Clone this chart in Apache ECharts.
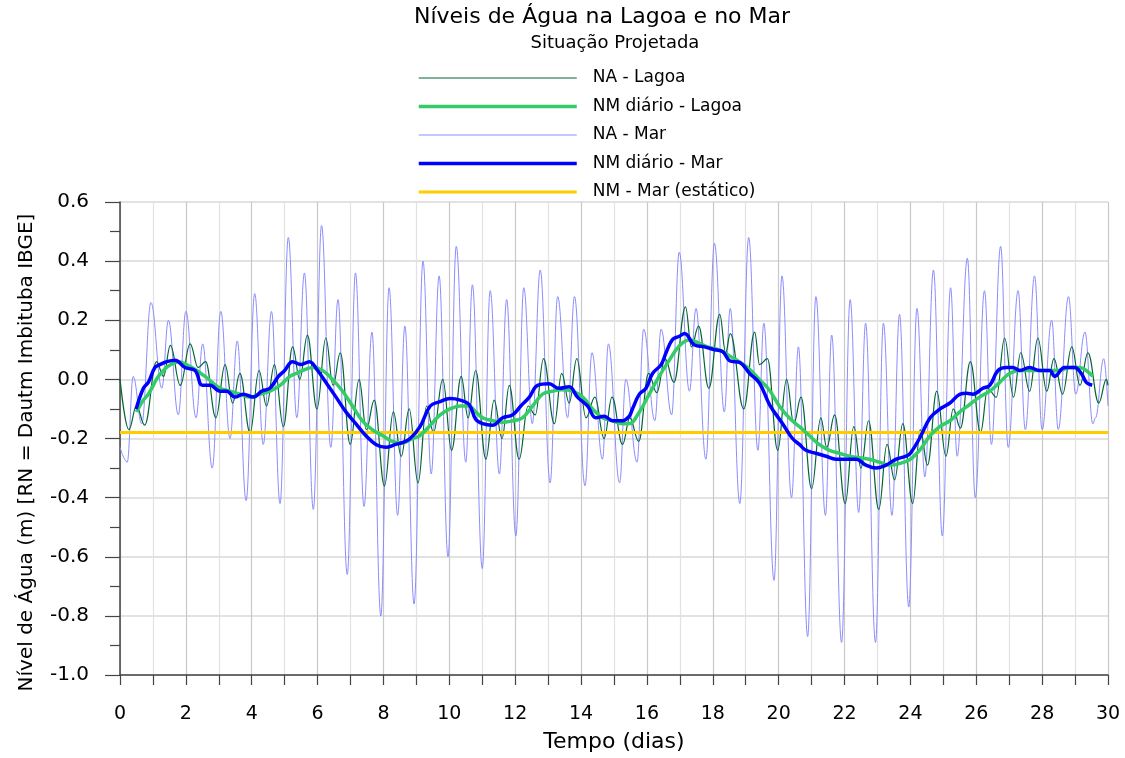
<!DOCTYPE html>
<html>
<head>
<meta charset="utf-8">
<title>Níveis de Água na Lagoa e no Mar</title>
<script src="https://cdn.jsdelivr.net/npm/echarts@6/dist/echarts.min.js"></script>
<style>
  html, body { margin: 0; padding: 0; background: #fff; }
  #chart { width: 1125px; height: 758px; }
</style>
</head>
<body>
<div id="chart"></div>
<script>
// NA - Mar : picos e cavas (dia, nivel m)
const marDias = [0.0, 0.22, 0.40, 0.66, 0.94, 1.27, 1.47, 1.77, 2.0, 2.31, 2.51, 2.80, 3.06, 3.34, 3.56, 3.83, 4.09, 4.35, 4.60, 4.86,
  5.11, 5.37, 5.60, 5.87, 6.12, 6.40, 6.62, 6.90, 7.15, 7.41, 7.65, 7.92, 8.17, 8.43, 8.65, 8.93, 9.20, 9.45, 9.69, 9.96,
  10.21, 10.50, 10.70, 11.00, 11.24, 11.52, 11.74, 12.02, 12.26, 12.52, 12.76, 13.06, 13.29, 13.59, 13.80, 14.12, 14.33, 14.65, 14.83, 15.17,
  15.36, 15.70, 15.90, 16.24, 16.43, 16.75, 16.98, 17.29, 17.49, 17.79, 18.05, 18.35, 18.53, 18.82, 19.09, 19.37, 19.55, 19.86, 20.10, 20.39,
  20.60, 20.88, 21.13, 21.42, 21.61, 21.91, 22.17, 22.43, 22.64, 22.94, 23.18, 23.44, 23.67, 23.95, 24.20, 24.44, 24.70, 24.97, 25.22, 25.42,
  25.73, 25.97, 26.25, 26.46, 26.74, 26.97, 27.27, 27.49, 27.77, 28.00, 28.29, 28.49, 28.80, 29.02, 29.30, 29.54, 29.62, 29.87, 30.0];
const marNivel = [-0.23, -0.28, 0.01, -0.15, 0.26, -0.03, 0.20, -0.12, 0.23, -0.13, 0.12, -0.30, 0.23, -0.20, 0.13, -0.41, 0.29, -0.22, 0.23, -0.42,
  0.48, -0.13, 0.36, -0.44, 0.52, -0.23, 0.27, -0.66, 0.36, -0.43, 0.16, -0.80, 0.31, -0.46, 0.18, -0.76, 0.40, -0.32, 0.35, -0.60,
  0.45, -0.28, 0.32, -0.64, 0.30, -0.32, 0.27, -0.53, 0.31, -0.15, 0.37, -0.35, 0.28, -0.13, 0.28, -0.36, 0.09, -0.27, 0.12, -0.35,
  0.0, -0.28, 0.17, -0.14, 0.17, -0.12, 0.43, -0.04, 0.24, -0.27, 0.46, -0.11, 0.24, -0.42, 0.48, -0.24, 0.19, -0.68, 0.35, -0.40,
  0.11, -0.87, 0.28, -0.46, 0.15, -0.89, 0.27, -0.45, 0.19, -0.89, 0.19, -0.46, 0.22, -0.77, 0.24, -0.33, 0.37, -0.53, 0.31, -0.26,
  0.41, -0.40, 0.30, -0.22, 0.45, -0.23, 0.30, -0.17, 0.35, -0.17, 0.20, -0.17, 0.28, -0.05, 0.16, -0.15, -0.13, 0.07, -0.09];

// NA - Lagoa
const lagoaDias = [0.0, 0.27, 0.50, 0.75, 1.11, 1.32, 1.53, 1.83, 2.13, 2.37, 2.60, 2.91, 3.19, 3.42, 3.64, 3.95, 4.22, 4.45, 4.69, 4.96,
  5.24, 5.46, 5.69, 5.98, 6.25, 6.47, 6.69, 6.99, 7.26, 7.48, 7.72, 8.03, 8.30, 8.54, 8.78, 9.05, 9.31, 9.52, 9.80, 10.07,
  10.36, 10.57, 10.80, 11.11, 11.36, 11.60, 11.82, 12.12, 12.39, 12.61, 12.86, 13.19, 13.41, 13.64, 13.87, 14.15, 14.42, 14.70, 14.94, 15.26,
  15.48, 15.75, 16.05, 16.30, 16.55, 16.82, 17.17, 17.35, 17.57, 17.88, 18.21, 18.39, 18.53, 18.94, 19.27, 19.42, 19.66, 19.97, 20.24, 20.46,
  20.68, 21.00, 21.28, 21.46, 21.70, 22.02, 22.28, 22.50, 22.73, 23.04, 23.29, 23.52, 23.77, 24.07, 24.30, 24.52, 24.80, 25.08, 25.30, 25.52,
  25.82, 26.13, 26.35, 26.61, 26.86, 27.13, 27.35, 27.62, 27.87, 28.14, 28.36, 28.62, 28.90, 29.15, 29.39, 29.72, 29.95, 30.0];
const lagoaNivel = [0.0, -0.17, -0.09, -0.155, 0.06, 0.01, 0.115, -0.02, 0.12, 0.04, 0.06, -0.13, 0.05, -0.08, 0.02, -0.18, 0.03, -0.09, 0.05, -0.16,
  0.11, 0.0, 0.15, -0.10, 0.14, -0.02, 0.09, -0.22, 0.0, -0.17, -0.07, -0.36, -0.11, -0.26, -0.10, -0.35, -0.09, -0.18, 0.0, -0.24,
  0.01, -0.13, 0.03, -0.27, -0.07, -0.20, -0.02, -0.27, -0.09, -0.12, 0.07, -0.15, 0.02, -0.08, 0.07, -0.13, -0.06, -0.20, -0.06, -0.22,
  -0.13, -0.21, 0.02, -0.045, 0.07, -0.01, 0.245, 0.11, 0.18, -0.03, 0.22, 0.09, 0.155, -0.10, 0.16, 0.05, 0.07, -0.24, 0.0, -0.15,
  -0.06, -0.37, -0.13, -0.23, -0.12, -0.42, -0.16, -0.30, -0.14, -0.44, -0.22, -0.34, -0.15, -0.42, -0.17, -0.29, -0.04, -0.26, -0.10, -0.165,
  0.06, -0.18, -0.03, -0.06, 0.14, -0.06, 0.09, -0.04, 0.14, -0.04, 0.07, -0.05, 0.11, -0.02, 0.09, -0.08, 0.0, -0.02];

// NM diario - Mar
const nmMarDias = [0.49, 0.71, 0.86, 1.06, 1.21, 1.42, 1.67, 1.97, 2.28, 2.50, 2.73, 3.04, 3.24, 3.49, 3.74, 4.05, 4.30, 4.55, 4.81, 5.0,
  5.24, 5.49, 5.75, 6.0, 6.25, 6.56, 6.86, 7.16, 7.46, 7.77, 8.07, 8.37, 8.55, 8.81, 9.11, 9.42, 9.72, 10.02, 10.33, 10.60,
  10.80, 11.01, 11.31, 11.62, 11.92, 12.17, 12.43, 12.68, 13.03, 13.33, 13.64, 13.89, 14.20, 14.45, 14.70, 14.96, 15.26, 15.46, 15.56, 15.77,
  15.97, 16.17, 16.43, 16.58, 16.78, 16.99, 17.14, 17.45, 17.75, 18.06, 18.31, 18.51, 18.82, 19.12, 19.42, 19.73, 20.12, 20.42, 20.63, 20.83,
  21.13, 21.44, 21.74, 22.04, 22.35, 22.65, 22.96, 23.26, 23.57, 23.87, 24.00, 24.30, 24.60, 24.90, 25.20, 25.51, 25.71, 25.90, 26.20, 26.41,
  26.66, 26.91, 27.11, 27.32, 27.62, 27.92, 28.23, 28.38, 28.68, 28.99, 29.19, 29.34, 29.52];
const nmMarNivel = [-0.10, -0.03, -0.01, 0.04, 0.05, 0.06, 0.065, 0.04, 0.03, -0.02, -0.02, -0.04, -0.04, -0.06, -0.05, -0.06, -0.04, -0.03, 0.01, 0.03,
  0.06, 0.05, 0.06, 0.03, -0.01, -0.06, -0.11, -0.15, -0.19, -0.22, -0.23, -0.22, -0.215, -0.20, -0.16, -0.09, -0.075, -0.065, -0.07, -0.085,
  -0.135, -0.15, -0.155, -0.13, -0.12, -0.09, -0.06, -0.02, -0.015, -0.03, -0.025, -0.06, -0.09, -0.13, -0.125, -0.14, -0.14, -0.125, -0.10, -0.05,
  -0.03, 0.02, 0.05, 0.09, 0.135, 0.146, 0.155, 0.116, 0.11, 0.10, 0.093, 0.063, 0.057, 0.02, -0.013, -0.087, -0.15, -0.20, -0.22, -0.24,
  -0.25, -0.26, -0.27, -0.27, -0.27, -0.29, -0.30, -0.29, -0.27, -0.26, -0.25, -0.195, -0.13, -0.10, -0.08, -0.05, -0.047, -0.05, -0.03, -0.02,
  0.03, 0.04, 0.04, 0.03, 0.04, 0.03, 0.03, 0.01, 0.04, 0.04, 0.02, -0.01, -0.02];

// NM diario - Lagoa
const nmLagoaDias = [0.50, 0.71, 0.86, 1.01, 1.16, 1.32, 1.47, 1.77, 2.02, 2.33, 2.58, 2.80, 3.04, 3.34, 3.64, 3.95, 4.25, 4.55, 4.86, 5.16,
  5.45, 5.85, 6.15, 6.45, 6.76, 7.06, 7.36, 7.66, 7.97, 8.27, 8.58, 8.88, 9.11, 9.42, 9.72, 10.02, 10.33, 10.58, 10.80, 11.01,
  11.31, 11.62, 11.92, 12.22, 12.53, 12.83, 13.13, 13.43, 13.74, 14.05, 14.35, 14.65, 14.96, 15.26, 15.46, 15.77, 16.07, 16.37, 16.68, 16.98,
  17.29, 17.59, 17.89, 18.20, 18.50, 18.80, 19.11, 19.41, 19.71, 20.02, 20.32, 20.63, 20.93, 21.23, 21.54, 21.84, 22.14, 22.45, 22.75, 23.06,
  23.36, 23.67, 24.00, 24.28, 24.60, 24.89, 25.20, 25.50, 25.80, 26.10, 26.41, 26.71, 27.01, 27.32, 27.62, 27.92, 28.23, 28.53, 28.84, 29.14,
  29.34, 29.54];
const nmLagoaNivel = [-0.11, -0.07, -0.05, -0.02, 0.01, 0.03, 0.045, 0.06, 0.05, 0.03, 0.01, -0.01, -0.03, -0.04, -0.05, -0.06, -0.05, -0.04, -0.02, 0.01,
  0.025, 0.04, 0.03, 0.0, -0.04, -0.09, -0.14, -0.17, -0.19, -0.21, -0.215, -0.20, -0.19, -0.155, -0.12, -0.10, -0.09, -0.09, -0.11, -0.13,
  -0.14, -0.145, -0.14, -0.13, -0.09, -0.05, -0.04, -0.035, -0.04, -0.06, -0.10, -0.13, -0.14, -0.15, -0.15, -0.11, -0.05, 0.01, 0.065, 0.113,
  0.133, 0.122, 0.108, 0.10, 0.08, 0.06, 0.035, 0.0, -0.035, -0.09, -0.13, -0.16, -0.19, -0.22, -0.24, -0.25, -0.26, -0.265, -0.27, -0.28,
  -0.29, -0.285, -0.27, -0.24, -0.19, -0.16, -0.14, -0.11, -0.085, -0.06, -0.04, -0.01, 0.02, 0.03, 0.03, 0.03, 0.03, 0.03, 0.04, 0.04,
  0.03, 0.01];

// NM - Mar (estatico)
const nmEstaticoDias = [0, 30];
const nmEstaticoNivel = [-0.18, -0.18];

const legenda = ['NA - Lagoa', 'NM diário - Lagoa', 'NA - Mar', 'NM diário - Mar', 'NM - Mar (estático)'];
const espessura = [1.2, 3.5, 1.2, 3.5, 3];

const par = (xs, ys) => xs.map((x, i) => [x, ys[i]]);
const fonte = 'DejaVu Sans';

const chart = echarts.init(document.getElementById('chart'), null, { renderer: 'canvas' });

const option = {
  animation: false,
  backgroundColor: '#ffffff',
  title: [
    {
      text: 'Níveis de Água na Lagoa e no Mar',
      left: 602, top: 6, textAlign: 'center', padding: 0,
      textStyle: { fontFamily: fonte, fontSize: 22, fontWeight: 'normal', color: '#000' }
    },
    {
      text: 'Situação Projetada',
      left: 615, top: 34, textAlign: 'center', padding: 0,
      textStyle: { fontFamily: fonte, fontSize: 18, fontWeight: 'normal', color: '#000' }
    }
  ],
  legend: {
    data: legenda.map((n, i) => ({ name: n, lineStyle: { width: espessura[i] } })),
    orient: 'vertical',
    left: 417, top: 68,
    padding: 0,
    itemWidth: 158, itemHeight: 20, itemGap: 8.5,
    itemStyle: { opacity: 0 },
    textStyle: { fontFamily: fonte, fontSize: 17, color: '#000', padding: [0, 0, 0, 11], lineHeight: 20 },
    selectedMode: false
  },
  grid: { left: 120, right: 17, top: 202, bottom: 82 },
  xAxis: {
    type: 'value', min: 0, max: 30, interval: 2,
    name: 'Tempo (dias)', nameLocation: 'middle', nameGap: 56,
    nameTextStyle: { fontFamily: fonte, fontSize: 22, color: '#000' },
    axisLine: { onZero: false, lineStyle: { color: '#444', width: 1.5 } },
    axisTick: { show: true, length: 10, lineStyle: { color: '#444', width: 1.2 } },
    minorTick: { show: true, splitNumber: 2, length: 10, lineStyle: { color: '#444', width: 1.2 } },
    axisLabel: { fontFamily: fonte, fontSize: 19, color: '#000', margin: 30 },
    splitLine: { show: true, lineStyle: { color: '#c8c8c8', width: 1.2 } },
    minorSplitLine: { show: true, lineStyle: { color: '#e2e2e2', width: 1.2 } }
  },
  yAxis: {
    type: 'value', min: -1, max: 0.6, interval: 0.2,
    name: 'Nível de Água (m) [RN = Dautm Imbituba IBGE]', nameLocation: 'middle', nameGap: 83,
    nameTextStyle: { fontFamily: fonte, fontSize: 20, color: '#000', padding: [0, 28, 0, 0] },
    axisLine: { show: true, onZero: false, lineStyle: { color: '#444', width: 1.5 } },
    axisTick: { show: true, length: 15, lineStyle: { color: '#444', width: 1.2 } },
    minorTick: { show: true, splitNumber: 2, length: 10, lineStyle: { color: '#444', width: 1.2 } },
    axisLabel: {
      fontFamily: fonte, fontSize: 20, color: '#000', margin: 31,
      formatter: v => (Math.abs(v) < 1e-9 ? 0 : v).toFixed(1)
    },
    splitLine: { show: true, lineStyle: { color: '#d8d8d8', width: 1.5 } }
  },
  series: [
    {
      name: 'NA - Mar', type: 'line', data: par(marDias, marNivel),
      symbol: 'none', smooth: 0.4, smoothMonotone: 'x', z: 2,
      lineStyle: { color: '#8c8cff', width: 1 }, itemStyle: { color: '#8c8cff' }
    },
    {
      name: 'NA - Lagoa', type: 'line', data: par(lagoaDias, lagoaNivel),
      symbol: 'none', smooth: 0.4, smoothMonotone: 'x', z: 3,
      lineStyle: { color: '#006633', width: 1.2 }, itemStyle: { color: '#006633' }
    },
    {
      name: 'NM - Mar (estático)', type: 'line', data: par(nmEstaticoDias, nmEstaticoNivel),
      symbol: 'none', z: 4,
      lineStyle: { color: '#ffcc00', width: 3 }, itemStyle: { color: '#ffcc00' }
    },
    {
      name: 'NM diário - Lagoa', type: 'line', data: par(nmLagoaDias, nmLagoaNivel),
      symbol: 'none', smooth: 0.4, z: 5,
      lineStyle: { color: '#33cc66', width: 3.5 }, itemStyle: { color: '#33cc66' }
    },
    {
      name: 'NM diário - Mar', type: 'line', data: par(nmMarDias, nmMarNivel),
      symbol: 'none', smooth: 0.4, z: 6,
      lineStyle: { color: '#0000ff', width: 3.5 }, itemStyle: { color: '#0000ff' }
    }
  ]
};

chart.setOption(option);
</script>
</body>
</html>
